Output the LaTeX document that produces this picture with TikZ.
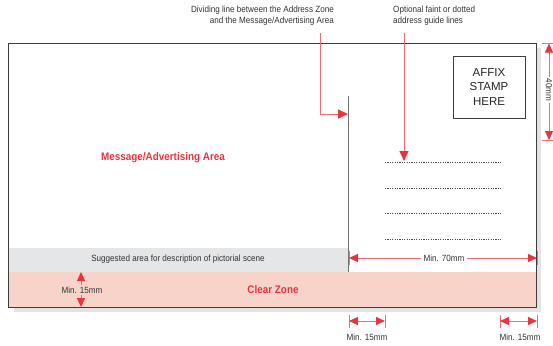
\documentclass[tikz,border=0pt]{standalone}
\usepackage{fontspec}
\usetikzlibrary{arrows.meta}
\newfontfamily\cond[FakeStretch=0.9]{Liberation Sans}
\newfontfamily\helv{Liberation Sans}
\definecolor{redc}{RGB}{232,52,62}
\definecolor{redl}{RGB}{238,110,116}
\definecolor{pinkz}{RGB}{248,211,201}
\definecolor{grayband}{RGB}{229,230,231}
\definecolor{shadowc}{RGB}{227,227,227}
\definecolor{edge}{RGB}{60,60,60}
\tikzset{
  lbl/.style={font=\cond\fontsize{9}{10.5}\selectfont, text=black!80, inner sep=1pt},
  redlbl/.style={font=\cond\bfseries\fontsize{11}{13}\selectfont, text=redc, inner sep=1pt},
  leader/.style={draw=redl, line width=1pt, -{Triangle[length=10pt,width=9pt,fill=redc,color=redc]}},
  dimline/.style={draw=redl, line width=1pt, {Triangle[length=9pt,width=8pt,fill=redc,color=redc]}-{Triangle[length=9pt,width=8pt,fill=redc,color=redc]}},
  tick/.style={draw=redl, line width=1pt},
  guide/.style={draw=black!70, line width=0.8pt, dash pattern=on 1.2pt off 1.2pt},
}
\begin{document}
\begin{tikzpicture}[x=1pt,y=-1pt]
\useasboundingbox (0,0) rectangle (553,345);
% shadow and card
\fill[shadowc] (14,48) rectangle (541,312);
\fill[white] (8.5,43.5) rectangle (536.5,307);
\fill[grayband] (9,248) rectangle (348.5,272);
\fill[pinkz] (9,272) rectangle (536.5,307);
\draw[edge, line width=1pt] (8.5,43.5) rectangle (536.5,307);
% dividing line
\coordinate (dtop) at (348.5,96);
\coordinate (dbot) at (348.5,272);
\draw[black!55, line width=1.3pt] (dtop) -- (dbot);
% stamp box
\node[draw=edge, line width=1pt, minimum width=72pt, minimum height=62pt, inner sep=0pt,
  align=center, font=\helv\fontsize{11.5}{14.5}\selectfont, text=black!85] (stamp) at (489,87) {AFFIX\\STAMP\\HERE};
% guide lines
\foreach \y/\n in {162/g1,188/g2,213/g3,239/g4}{
  \coordinate (\n a) at (385,\y);
  \coordinate (\n b) at (501,\y);
  \draw[guide] (\n a) -- (\n b);
}
% texts
\node[redlbl] (msg) at (163,158) {Message/Advertising Area};
\node[redlbl] (clear) at (273,290) {Clear Zone};
\node[lbl] (sugg) at (178,259.5) {Suggested area for description of pictorial scene};
\node[lbl, align=right, anchor=north east] (divlbl) at (335,5) {Dividing line between the Address Zone\\and the Message/Advertising Area};
\node[lbl, align=left, anchor=north west] (optlbl) at (392,5) {Optional faint or dotted\\address guide lines};
% leaders
\coordinate (l1s) at (320,33);
\coordinate (l1c) at (320,114);
\coordinate (l1e) at (348,114);
\draw[leader] (l1s) -- (l1c) -- (l1e);
\coordinate (l2s) at (404,33);
\coordinate (l2e) at (404,161);
\draw[leader] (l2s) -- (l2e);
% 40mm
\coordinate (t40a) at (542,43.5);
\coordinate (t40b) at (553,43.5);
\coordinate (t40c) at (542,140);
\coordinate (t40d) at (553,140);
\draw[tick] (t40a) -- (t40b);
\draw[tick] (t40c) -- (t40d);
\coordinate (d40a) at (549,43.5);
\coordinate (d40b) at (549,140);
\draw[dimline] (d40a) -- (d40b);
\node[lbl, fill=white, rotate=-90, inner sep=2pt] (m40) at (549,90) {40mm};
% Min. 70mm
\coordinate (k1a) at (349,251);
\coordinate (k1b) at (349,265);
\coordinate (k2a) at (537,251);
\coordinate (k2b) at (537,265);
\draw[tick] (k1a) -- (k1b);
\draw[tick] (k2a) -- (k2b);
\coordinate (d70a) at (349,258);
\coordinate (d70b) at (537,258);
\draw[dimline] (d70a) -- (d70b);
\node[lbl, fill=white, inner sep=3pt] (m70) at (444,258) {Min. 70mm};
% left Min. 15mm
\coordinate (v15a) at (81,272);
\coordinate (v15b) at (81,307);
\draw[dimline] (v15a) -- (v15b);
\node[lbl, fill=pinkz, inner sep=1.5pt] (m15l) at (82,290) {Min. 15mm};
% bottom Min. 15mm
\foreach \x/\n in {349/b1,385/b2,500/b3,537/b4}{
  \coordinate (\n a) at (\x,315);
  \coordinate (\n b) at (\x,328);
  \draw[tick] (\n a) -- (\n b);
}
\coordinate (h1a) at (349,321);
\coordinate (h1b) at (385,321);
\coordinate (h2a) at (500,321);
\coordinate (h2b) at (537,321);
\draw[dimline] (h1a) -- (h1b);
\draw[dimline] (h2a) -- (h2b);
\node[lbl] (m15a) at (367,337.5) {Min. 15mm};
\node[lbl] (m15b) at (520,337.5) {Min. 15mm};
\end{tikzpicture}
\end{document}
